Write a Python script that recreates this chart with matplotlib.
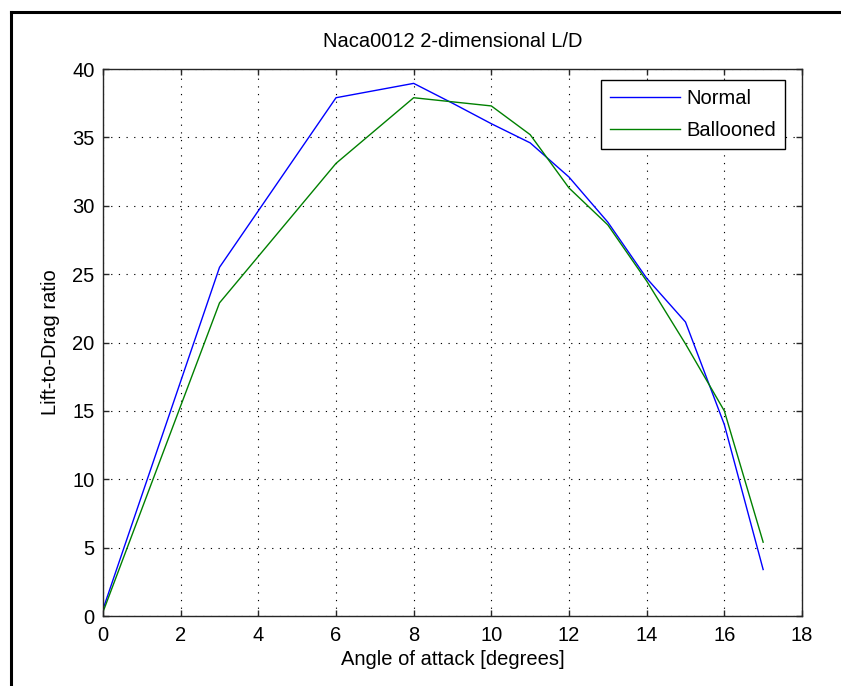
import matplotlib.pyplot as plt
from matplotlib.lines import Line2D

plt.rcParams['font.family'] = ['Liberation Sans', 'DejaVu Sans']

# Angle of attack [deg] and L/D for both airfoil shapes
alpha = [0, 3, 6, 8, 9, 10, 11, 12, 13, 14, 15, 16, 17]
ld_normal = [0.5, 25.5, 37.9, 38.95, 37.5, 36.0, 34.6, 32.1, 28.8, 24.7, 21.5, 14.0, 3.4]
ld_ballooned = [0.3, 22.9, 33.1, 37.9, 37.6, 37.3, 35.2, 31.3, 28.6, 24.5, 19.9, 15.0, 5.4]

xticks = list(range(0, 19, 2))
yticks = list(range(0, 41, 5))

fig = plt.figure(figsize=(8.41, 6.86), dpi=100)
ax = fig.add_axes([0.1225, 0.102, 0.8311, 0.7974])

ax.plot(alpha, ld_normal, color=(0, 0, 1), linewidth=1.0, label='Normal')
ax.plot(alpha, ld_ballooned, color=(0, 0.5, 0), linewidth=1.0, label='Ballooned')

ax.set_xlim(0, 18)
ax.set_ylim(0, 40)
ax.set_xticks(xticks)
ax.set_yticks(yticks)
ax.tick_params(direction='in', length=4.5, width=1, color='#262626',
               labelsize=14.5, top=True, right=True)
ax.tick_params(axis='x', pad=7)
ax.tick_params(axis='y', pad=6)
for s in ax.spines.values():
    s.set_color('#262626')
    s.set_linewidth(1)

ax.grid(True, color='black', linewidth=0.8, linestyle=(0, (1.1, 5.8)))

ax.set_title('Naca0012 2-dimensional L/D', fontsize=14.5, pad=16)
ax.set_xlabel('Angle of attack [degrees]', fontsize=14.5, labelpad=4)
ax.set_ylabel('Lift-to-Drag ratio', fontsize=14.5, labelpad=9)

leg = ax.legend(loc='upper right', bbox_to_anchor=(0.9757, 0.9799),
                borderaxespad=0, fontsize=14.5, fancybox=False, framealpha=1,
                edgecolor='black', handlelength=3.5, handletextpad=0.3,
                labelspacing=0.65, borderpad=0.45)
leg.get_frame().set_linewidth(1.0)

# window border along top and left
fig.add_artist(Line2D([11 / 841, 11 / 841], [0, 1 - 12 / 686], transform=fig.transFigure,
                      color='black', linewidth=2.2))
fig.add_artist(Line2D([11 / 841, 1], [1 - 12 / 686, 1 - 12 / 686], transform=fig.transFigure,
                      color='black', linewidth=2.2))

fig.savefig('out.png', dpi=100)
